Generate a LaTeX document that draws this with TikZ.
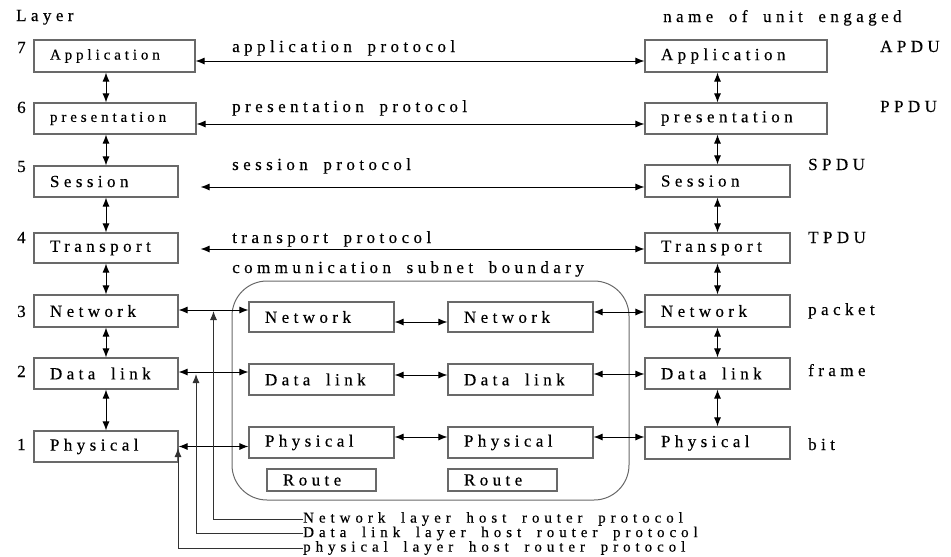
\documentclass[tikz,border=0pt]{standalone}
\usepackage{fontspec}
\setmainfont{Liberation Serif}
\newfontfamily\lsf{Liberation Serif}[LetterSpace=26,WordSpace=1.8,FakeBold=0.4]
\newfontfamily\lsb{Liberation Serif}[LetterSpace=33,WordSpace=1.8,FakeBold=0.4]
\usetikzlibrary{arrows.meta}
\definecolor{boxgray}{RGB}{105,105,105}
\definecolor{linegray}{RGB}{50,50,50}
\newcommand\fbig{\lsf\fontsize{17}{17}\selectfont}
\newcommand\fsmall{\lsf\fontsize{15}{15}\selectfont}
\newcommand\fbot{\lsb\fontsize{15}{15}\selectfont}
\newcommand\bt[2]{\makebox[#1][l]{#2}}
\begin{document}
\begin{tikzpicture}[x=1pt,y=-1pt,
 box/.style={draw=boxgray, line width=1.1pt, inner xsep=16pt, inner ysep=0pt, font=\fbig, text=black},
 arr/.style={{Latex[length=9pt,width=7pt]}-{Latex[length=9pt,width=7pt]}, line width=1pt, draw=black},
 uparr/.style={-{Latex[length=9pt,width=7pt]}, line width=1pt, draw=linegray},
 txt/.style={font=\fbig, inner sep=0pt, anchor=base west, text=black},
 bot/.style={font=\fbot, inner sep=0pt, anchor=west, text=black},
 bound/.style={draw=boxgray, line width=1pt, rounded corners=35pt, inner sep=0pt}]
\useasboundingbox (0,0) rectangle (951,557);

% subnet boundary
\node[bound, minimum width=397pt, minimum height=219pt] (subnet) at (430.5,390.5) {};

% left stack
\node[box, font=\fsmall, minimum width=161pt, minimum height=32pt] (LApp) at (114.5,56) {\bt{129pt}{Application}};
\node[box, font=\fsmall, minimum width=162pt, minimum height=31pt] (LPre) at (115,118.5) {\bt{130pt}{presentation}};
\node[box, minimum width=144pt, minimum height=31pt] (LSes) at (106,181.5) {\bt{112pt}{Session}};
\node[box, minimum width=144pt, minimum height=30pt] (LTra) at (106,248) {\bt{112pt}{Transport}};
\node[box, minimum width=144pt, minimum height=32pt] (LNet) at (106,311) {\bt{112pt}{Network}};
\node[box, minimum width=144pt, minimum height=31pt] (LDat) at (106,373.5) {\bt{112pt}{Data link}};
\node[box, minimum width=144pt, minimum height=31pt] (LPhy) at (106,446.5) {\bt{112pt}{Physical}};

% right stack
\node[box, minimum width=182pt, minimum height=32pt] (RApp) at (736,56) {\bt{150pt}{Application}};
\node[box, minimum width=182pt, minimum height=31pt] (RPre) at (736,118.5) {\bt{150pt}{presentation}};
\node[box, minimum width=145pt, minimum height=32pt] (RSes) at (717.5,181) {\bt{113pt}{Session}};
\node[box, minimum width=145pt, minimum height=30pt] (RTra) at (717.5,248) {\bt{113pt}{Transport}};
\node[box, minimum width=145pt, minimum height=32pt] (RNet) at (717.5,311) {\bt{113pt}{Network}};
\node[box, minimum width=145pt, minimum height=31pt] (RDat) at (717.5,373.5) {\bt{113pt}{Data link}};
\node[box, minimum width=145pt, minimum height=32pt] (RPhy) at (717.5,443) {\bt{113pt}{Physical}};

% middle (subnet) boxes
\node[box, minimum width=145pt, minimum height=30pt] (MN1) at (321.5,317) {\bt{113pt}{Network}};
\node[box, minimum width=145pt, minimum height=30pt] (MN2) at (520.5,317) {\bt{113pt}{Network}};
\node[box, minimum width=145pt, minimum height=31pt] (MD1) at (321.5,379.5) {\bt{113pt}{Data link}};
\node[box, minimum width=145pt, minimum height=31pt] (MD2) at (520.5,379.5) {\bt{113pt}{Data link}};
\node[box, minimum width=145pt, minimum height=31pt] (MP1) at (321.5,442.5) {\bt{113pt}{Physical}};
\node[box, minimum width=145pt, minimum height=31pt] (MP2) at (520.5,442.5) {\bt{113pt}{Physical}};
\node[box, minimum width=109pt, minimum height=22pt] (Ro1) at (321.5,480) {\bt{77pt}{Route}};
\node[box, minimum width=109pt, minimum height=22pt] (Ro2) at (502.5,480) {\bt{77pt}{Route}};

% labels
\node[txt] (tLayer) at (16,21) {Layer};
\node[txt] (n7) at (17,53) {7};
\node[txt] (n6) at (17,113) {6};
\node[txt] (n5) at (17,172) {5};
\node[txt] (n4) at (17,243) {4};
\node[txt] (n3) at (17,317) {3};
\node[txt] (n2) at (17,377) {2};
\node[txt] (n1) at (17,450) {1};

\node[txt] (pApp) at (232,52) {application protocol};
\node[txt] (pPre) at (232,112) {presentation protocol};
\node[txt] (pSes) at (232,170) {session protocol};
\node[txt] (pTra) at (232,243) {transport protocol};
\node[txt] (pCom) at (232,273) {communication subnet boundary};

\node[txt] (tUnit) at (663,22) {name of unit engaged};
\node[txt] (uA) at (880,52) {APDU};
\node[txt] (uP) at (880,112) {PPDU};
\node[txt] (uS) at (808,170) {SPDU};
\node[txt] (uT) at (808,243) {TPDU};
\node[txt] (uN) at (808,315) {packet};
\node[txt] (uD) at (808,376) {frame};
\node[txt] (uB) at (808,450) {bit};

\node[bot] (hNet) at (303,519) {Network layer host router protocol};
\node[bot] (hDat) at (303,533.5) {Data link layer host router protocol};
\node[bot] (hPhy) at (303,548) {physical layer host router protocol};

% vertical arrows, left and right stacks
\foreach \a/\b in {LApp/LPre,LPre/LSes,LSes/LTra,LTra/LNet,LNet/LDat,LDat/LPhy}
  \draw[arr] (\a.south -| LNet) -- (\b.north -| LNet);
\foreach \a/\b in {RApp/RPre,RPre/RSes,RSes/RTra,RTra/RNet,RNet/RDat,RDat/RPhy}
  \draw[arr] (\a.south -| RNet) -- (\b.north -| RNet);

% peer protocols
\draw[arr] ([yshift=-5pt]LApp.east) -- ([yshift=-5pt]LApp.east -| RApp.west);
\draw[arr] ([yshift=-5.5pt]LPre.east) -- ([yshift=-5.5pt]LPre.east -| RPre.west);
\coordinate (sesL) at ([xshift=22pt,yshift=-5.5pt]LSes.east);
\draw[arr] (sesL) -- (sesL -| RSes.west);
\coordinate (traL) at ([xshift=22pt,yshift=-1pt]LTra.east);
\draw[arr] (traL) -- (traL -| RTra.west);

% host to router
\draw[arr] ([yshift=1pt]LNet.east) -- ([yshift=1pt]LNet.east -| MN1.west);
\draw[arr] ([yshift=1.5pt]LDat.east) -- ([yshift=1.5pt]LDat.east -| MD1.west);
\draw[arr] (LPhy.east) -- (LPhy.east -| MP1.west);

% router to router
\draw[arr] ([yshift=-5pt]MN1.east) -- ([yshift=-5pt]MN2.west);
\draw[arr] ([yshift=4.5pt]MD1.east) -- ([yshift=4.5pt]MD2.west);
\draw[arr] ([yshift=5.5pt]MP1.east) -- ([yshift=5.5pt]MP2.west);

% router to host
\draw[arr] ([yshift=5pt]MN2.east) -- ([yshift=5pt]MN2.east -| RNet.west);
\draw[arr] ([yshift=5.5pt]MD2.east) -- ([yshift=5.5pt]MD2.east -| RDat.west);
\draw[arr] ([yshift=5.5pt]MP2.east) -- ([yshift=5.5pt]MP2.east -| RPhy.west);

% host-router protocol leaders
\coordinate (netTip) at (213.5,311);
\coordinate (datTip) at (196,374);
\coordinate (phyTip) at (178,448);
\draw[uparr] (hNet.west) -| (netTip);
\draw[uparr] (hDat.west) -| (datTip);
\draw[uparr] (hPhy.west) -| (phyTip);
\end{tikzpicture}
\end{document}
